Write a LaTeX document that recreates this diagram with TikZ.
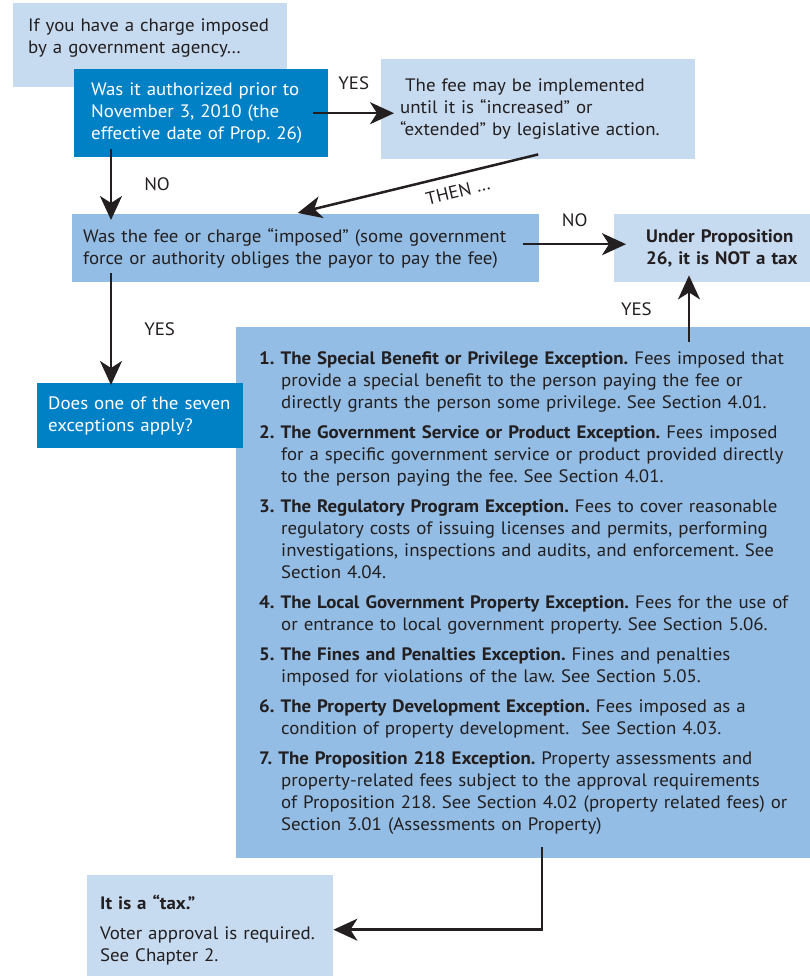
\documentclass[tikz,border=0pt]{standalone}
\usepackage{fontspec}
\setmainfont{PT Sans}[FakeStretch=1.05]
\usetikzlibrary{arrows.meta,calc}
\definecolor{paleblue}{HTML}{C6DAF0}
\definecolor{midblue}{HTML}{93BDE4}
\definecolor{deepblue}{HTML}{0081C6}
\definecolor{ink}{HTML}{231F20}
\newcommand{\indline}{\hspace*{22pt}}
\frenchspacing
\tikzset{every node/.style={font=\fontsize{18}{22}\selectfont}}
\tikzstyle{lightbox} = [rectangle, fill=paleblue, text=ink, align=left, anchor=north west]
\tikzstyle{midbox} = [rectangle, fill=midblue, text=ink, align=left, anchor=north west]
\tikzstyle{darkbox} = [rectangle, fill=deepblue, text=white, align=left, anchor=north west]
\tikzstyle{line} = [draw=ink, line width=2.5pt, -{Stealth[length=24pt,width=22pt,inset=7pt]}]
\tikzstyle{tag} = [inner sep=0pt, text=ink]

\begin{document}
\begin{tikzpicture}[x=1pt, y=-1pt]
    \useasboundingbox (0,0) rectangle (810,976);
    \node [lightbox, minimum width=274pt, minimum height=84pt, inner xsep=15pt, text width=244pt, text depth=41pt] (start) at (13,3) {If you have a charge imposed\\ by a government agency…};
    \node [darkbox, minimum width=254pt, minimum height=88pt, inner xsep=17pt, text width=220pt] (askAuth) at (74,69) {Was it authorized prior to\\ November 3, 2010 (the\\ effective date of Prop. 26)};
    \node [lightbox, minimum width=314pt, minimum height=100pt, inner xsep=19pt, text width=276pt] (mayImpl) at (381,59) {\hspace*{5pt}The fee may be implemented\\ until it is “increased” or\\ “extended” by legislative action.};
    \node [midbox, minimum width=467pt, minimum height=68pt, inner xsep=11pt, text width=445pt] (askImposed) at (72,214) {Was the fee or charge “imposed” (some government\\ force or authority obliges the payor to pay the fee)};
    \node [lightbox, minimum height=68pt, inner xsep=32pt, text width=160pt] (notTax) at (614,214) {\textbf{Under Proposition}\\ \textbf{26, it is NOT a tax}};
    \node [midbox, minimum height=531pt, inner xsep=23pt, text width=550pt] (exceptions) at (236,327) {\textbf{1. The Special Benefit or Privilege Exception.} Fees imposed that\\
        \indline provide a special benefit to the person paying the fee or\\
        \indline directly grants the person some privilege. See Section 4.01.\\[8pt]
        \textbf{2. The Government Service or Product Exception.} Fees imposed\\
        \indline for a specific government service or product provided directly\\
        \indline to the person paying the fee. See Section 4.01.\\[8pt]
        \textbf{3. The Regulatory Program Exception.} Fees to cover reasonable\\
        \indline regulatory costs of issuing licenses and permits, performing\\
        \indline investigations, inspections and audits, and enforcement. See\\
        \indline Section 4.04.\\[8pt]
        \textbf{4. The Local Government Property Exception.} Fees for the use of\\
        \indline or entrance to local government property. See Section 5.06.\\[8pt]
        \textbf{5. The Fines and Penalties Exception.} Fines and penalties\\
        \indline imposed for violations of the law. See Section 5.05.\\[8pt]
        \textbf{6. The Property Development Exception.} Fees imposed as a\\
        \indline condition of property development.\ \ See Section 4.03.\\[8pt]
        \textbf{7. The Proposition 218 Exception.} Property assessments and\\
        \indline property-related fees subject to the approval requirements\\
        \indline of Proposition 218. See Section 4.02 (property related fees) or\\
        \indline Section 3.01 (Assessments on Property)};
    \node [darkbox, minimum width=206pt, minimum height=65pt, inner xsep=11pt, text width=184pt] (askExcept) at (37,383) {Does one of the seven\\ exceptions apply?};
    \node [lightbox, minimum width=246pt, minimum height=109pt, inner xsep=13pt, text width=220pt] (itsTax) at (87,875) {\textbf{It is a “tax.”}\\[8pt] Voter approval is required.\\ See Chapter 2.};
    % connectors
    \path [line] ($(askAuth.east)+(-15pt,0pt)$) -- ($(askAuth.east -| mayImpl.west)+(13pt,0pt)$)
        node [tag, midway, above=22pt] {YES};
    \path [line] ($(mayImpl.south)+(0pt,5pt)$) -- ($(askImposed.north)+(-8pt,1pt)$)
        node [tag, pos=0.35, sloped, below=9pt] {THEN …};
    \path [line] ($(askAuth.south west)+(37pt,8pt)$) -- ($(askAuth.south west |- askImposed.north)+(37pt,-6pt)$)
        node [tag, midway, right=32pt] {NO};
    \path [line] ($(askImposed.east)+(-16pt,4pt)$) -- ($(askImposed.east -| notTax.west)+(12pt,4pt)$)
        node [tag, midway, above=16pt] {NO};
    \path [line] ($(askImposed.south west)+(39pt,9pt)$) -- ($(askImposed.south west |- askExcept.north)+(39pt,-2pt)$)
        node [tag, midway, right=32pt] {YES};
    \path [line] ($(exceptions.north west)+(453pt,-15pt)$) -- ($(exceptions.north west |- notTax.south)+(453pt,7pt)$)
        node [tag, midway, left=36pt] {YES};
    \path [line] ($(exceptions.south west)+(306pt,11pt)$) |- (itsTax.east);
\end{tikzpicture}
\end{document}
